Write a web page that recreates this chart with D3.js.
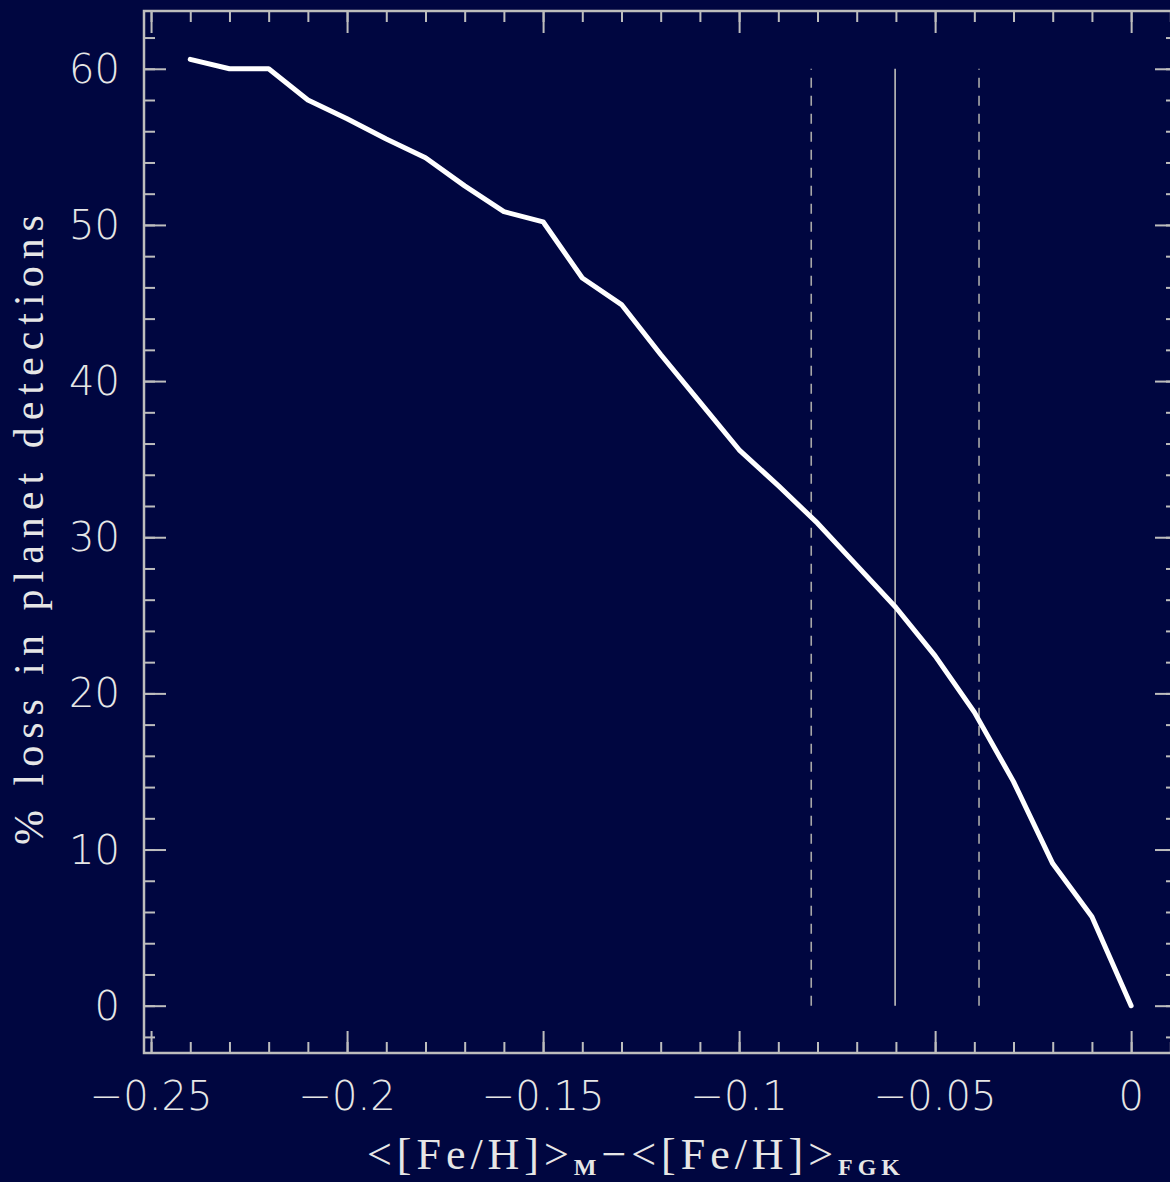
<!DOCTYPE html>
<html>
<head>
<meta charset="utf-8">
<script src="https://cdn.jsdelivr.net/npm/d3@7"></script>
<style>
  html, body { margin: 0; padding: 0; background: #000640; }
  svg { display: block; }
</style>
</head>
<body>
<svg id="chart" width="1170" height="1182"></svg>
<script>
// ---- data ----
const metallicityOffset = [-0.24, -0.23, -0.22, -0.21, -0.20, -0.19, -0.18, -0.17, -0.16, -0.15,
                           -0.14, -0.13, -0.12, -0.11, -0.10, -0.09, -0.08, -0.07, -0.06, -0.05,
                           -0.04, -0.03, -0.02, -0.01, 0.00];
const lossPercent = [60.6, 60.0, 60.0, 58.0, 56.8, 55.5, 54.3, 52.5, 50.85, 50.2,
                     46.6, 44.9, 41.7, 38.65, 35.6, 33.3, 30.9, 28.2, 25.5, 22.4,
                     18.8, 14.35, 9.1, 5.7, 0.0];
const meanOffset = -0.0602;
const offsetBounds = [-0.0816, -0.0388];
const refLineSpan = [0, 60];
const xMajorTicks = [-0.25, -0.2, -0.15, -0.1, -0.05, 0];
const xTickLabels = ["\u22120.25", "\u22120.2", "\u22120.15", "\u22120.1", "\u22120.05", "0"];
const yMajorTicks = [0, 10, 20, 30, 40, 50, 60];
const yTickLabels = ["0", "10", "20", "30", "40", "50", "60"];
const yTitle = "% loss in planet detections";

// ---- layout ----
const W = 1170, H = 1182;
const frame = { left: 144, right: 1177, top: 11, bottom: 1053 };
const bg = "#000640", axisCol = "#bdbdbd", textCol = "#e6e6e6";

const x = d3.scaleLinear().domain([-0.2518, 0.0117]).range([frame.left, frame.right]);
const y = d3.scaleLinear().domain([-3.03, 63.7]).range([frame.bottom, frame.top]);

const svg = d3.select("#chart");
svg.append("rect").attr("width", W).attr("height", H).attr("fill", bg);

const xMinor = d3.range(-25, 2).map(i => i / 100);
const yMinor = d3.range(-1, 32).map(i => i * 2);

function styleAxis(g) {
  g.select(".domain").remove();
  g.selectAll(".tick line").attr("stroke", axisCol).attr("stroke-width", 2);
  g.selectAll(".tick text").remove();
}
const majorLen = 22, minorLen = 11;

// bottom
svg.append("g").attr("transform", `translate(0,${frame.bottom})`)
  .call(d3.axisBottom(x).tickValues(xMinor).tickSize(-minorLen).tickFormat("")).call(styleAxis);
svg.append("g").attr("transform", `translate(0,${frame.bottom})`)
  .call(d3.axisBottom(x).tickValues(xMajorTicks).tickSize(-majorLen).tickFormat("")).call(styleAxis);
// top
svg.append("g").attr("transform", `translate(0,${frame.top})`)
  .call(d3.axisTop(x).tickValues(xMinor).tickSize(-minorLen).tickFormat("")).call(styleAxis);
svg.append("g").attr("transform", `translate(0,${frame.top})`)
  .call(d3.axisTop(x).tickValues(xMajorTicks).tickSize(-majorLen).tickFormat("")).call(styleAxis);
// left
svg.append("g").attr("transform", `translate(${frame.left},0)`)
  .call(d3.axisLeft(y).tickValues(yMinor).tickSize(-minorLen).tickFormat("")).call(styleAxis);
svg.append("g").attr("transform", `translate(${frame.left},0)`)
  .call(d3.axisLeft(y).tickValues(yMajorTicks).tickSize(-majorLen).tickFormat("")).call(styleAxis);
// right
svg.append("g").attr("transform", `translate(${frame.right},0)`)
  .call(d3.axisRight(y).tickValues(yMinor).tickSize(-minorLen).tickFormat("")).call(styleAxis);
svg.append("g").attr("transform", `translate(${frame.right},0)`)
  .call(d3.axisRight(y).tickValues(yMajorTicks).tickSize(-majorLen).tickFormat("")).call(styleAxis);

// frame
svg.append("rect")
  .attr("x", frame.left).attr("y", frame.top)
  .attr("width", frame.right - frame.left).attr("height", frame.bottom - frame.top)
  .attr("fill", "none").attr("stroke", axisCol).attr("stroke-width", 2.5);

// reference lines
svg.append("line")
  .attr("x1", x(meanOffset)).attr("x2", x(meanOffset))
  .attr("y1", y(refLineSpan[0])).attr("y2", y(refLineSpan[1]))
  .attr("stroke", "#b4b4b4").attr("stroke-width", 1.7);
svg.selectAll("line.bound").data(offsetBounds).enter().append("line")
  .attr("class", "bound")
  .attr("x1", d => x(d)).attr("x2", d => x(d))
  .attr("y1", y(refLineSpan[0])).attr("y2", y(refLineSpan[1]))
  .attr("stroke", "#a8a8a8").attr("stroke-width", 1.6)
  .attr("stroke-dasharray", "10,8");

// curve
const pts = metallicityOffset.map((v, i) => [v, lossPercent[i]]);
svg.append("path")
  .attr("d", d3.line().x(d => x(d[0])).y(d => y(d[1]))(pts))
  .attr("fill", "none").attr("stroke", "#ffffff").attr("stroke-width", 5)
  .attr("stroke-linejoin", "round").attr("stroke-linecap", "round");

// tick labels
const numFont = "'DejaVu Sans', 'Liberation Sans', sans-serif";
svg.selectAll("text.xl").data(xMajorTicks).enter().append("text")
  .attr("class", "xl")
  .attr("x", d => x(d)).attr("y", 1110)
  .attr("text-anchor", "middle")
  .attr("font-family", numFont).attr("font-weight", 200).attr("font-size", 40)
  .attr("fill", textCol)
  .text((d, i) => xTickLabels[i]);
svg.selectAll("text.yl").data(yMajorTicks).enter().append("text")
  .attr("class", "yl")
  .attr("x", 120).attr("y", d => y(d) + 14)
  .attr("text-anchor", "end")
  .attr("font-family", numFont).attr("font-weight", 200).attr("font-size", 40)
  .attr("fill", textCol)
  .text((d, i) => yTickLabels[i]);

// axis titles
const serif = "'Liberation Serif', 'DejaVu Serif', serif";
svg.append("text")
  .attr("transform", "translate(43,530) rotate(-90)")
  .attr("text-anchor", "middle")
  .attr("font-family", serif).attr("font-size", 42)
  .attr("fill", textCol)
  .attr("textLength", 630).attr("lengthAdjust", "spacing")
  .text(yTitle);

const xt = svg.append("text")
  .attr("x", 367).attr("y", 1169)
  .attr("font-family", serif).attr("font-size", 44)
  .attr("fill", textCol)
  .attr("textLength", 533).attr("lengthAdjust", "spacing");
xt.append("tspan").text("<[Fe/H]>");
xt.append("tspan").attr("dy", 6).attr("font-size", 24).attr("font-weight", "bold").text("M");
xt.append("tspan").attr("dy", -6).text("\u2212<[Fe/H]>");
xt.append("tspan").attr("dy", 6).attr("font-size", 24).attr("font-weight", "bold").text("FGK");
</script>
</body>
</html>
